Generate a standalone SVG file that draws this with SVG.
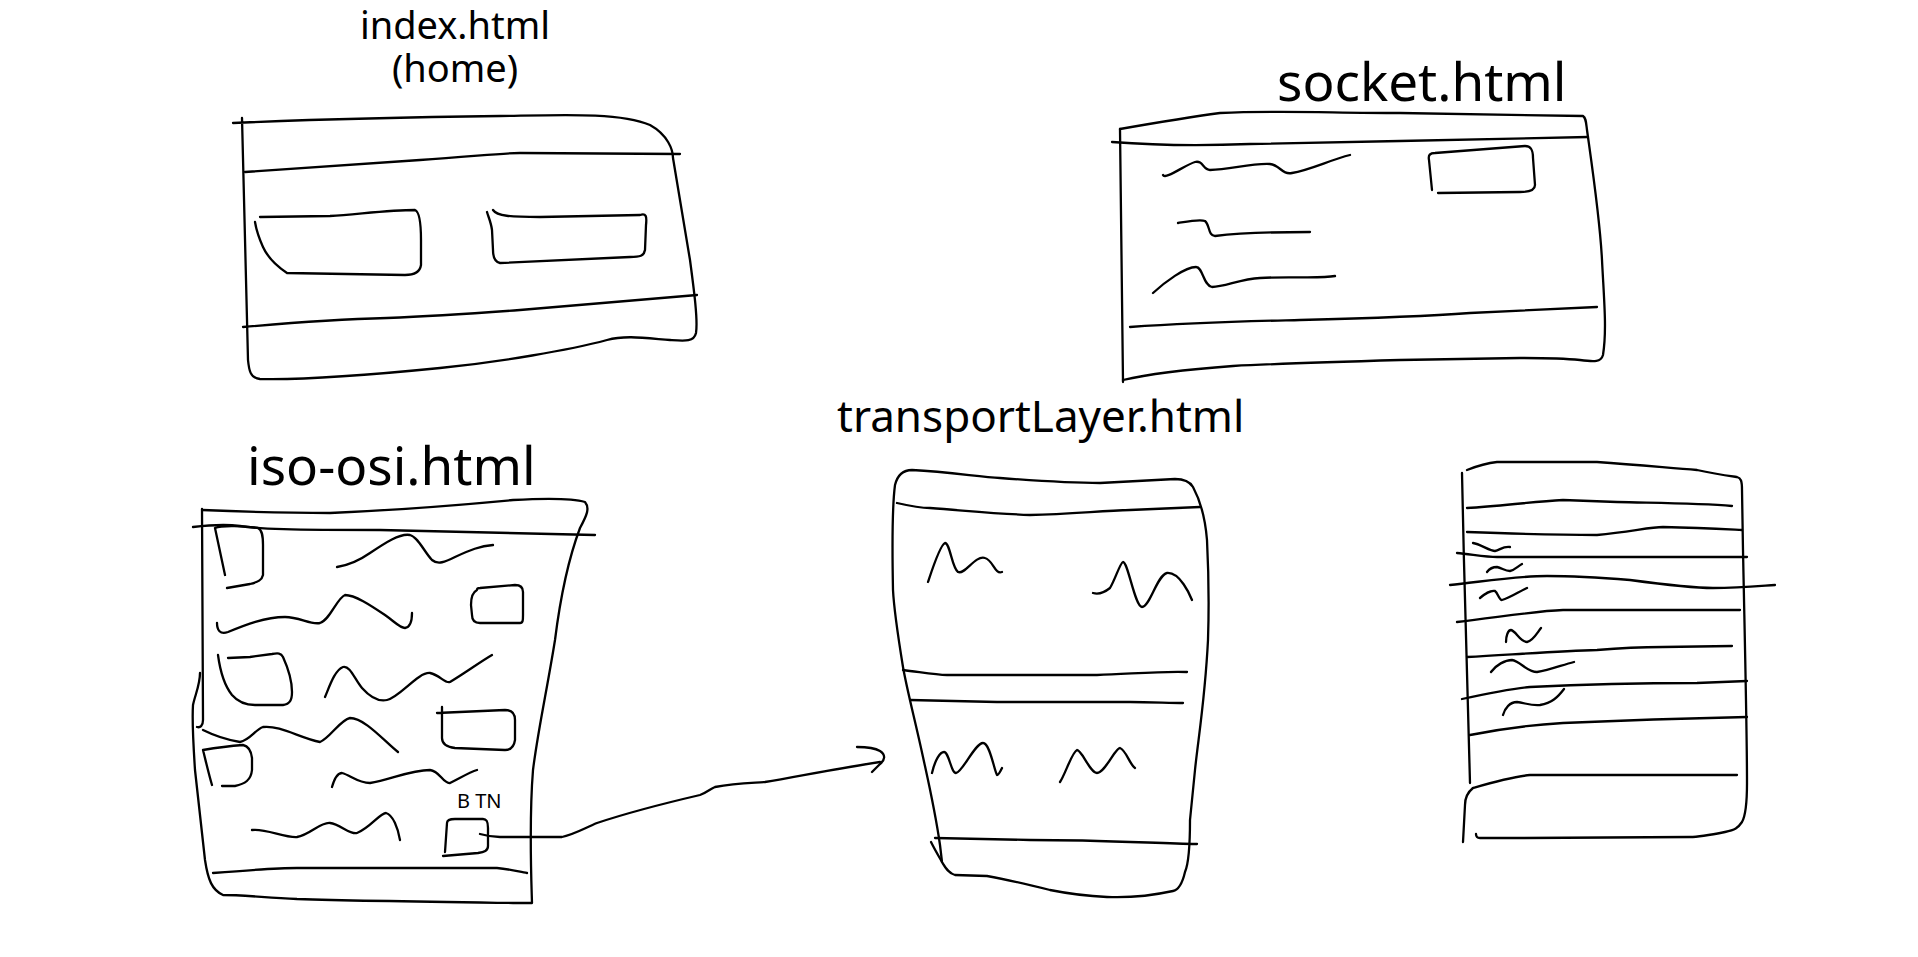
<svg xmlns="http://www.w3.org/2000/svg" width="1918" height="957" viewBox="0 0 1918 957">
<style>
path{fill:none;stroke:#000;stroke-width:2.3;stroke-linecap:round;stroke-linejoin:round}
text{font-family:"Noto Sans","Open Sans","DejaVu Sans",sans-serif;fill:#000}
.c{text-anchor:middle}
</style>
<rect width="1918" height="957" fill="#fff"/>
<g id="index">
<text class="c" x="455" y="39" font-size="38">index.html</text>
<text class="c" x="455" y="82" font-size="38">(home)</text>
<path d="M233,123 C300,120 420,117 500,116 C560,115 620,112 650,125 C668,135 673,150 673,158 L690,260 C694,290 698,320 696,333 C694,342 685,341 670,340 C645,338 625,335 607,340 C570,350 500,362 440,368 C360,376 300,380 260,379 C250,378 249,370 248,360 L242,118"/>
<path d="M245,172 C320,167 380,163 420,160 C470,157 500,153 520,153 L680,154"/>
<path d="M243,327 C300,322 350,319 387,318 C440,316 480,313 520,310 C600,303 650,299 697,295"/>
<path d="M260,217 L330,216 C360,214 390,210 415,210 C420,212 421,225 421,240 L421,265 C420,272 415,275 405,275 L287,273 C275,265 268,258 263,247 C258,236 256,228 255,222"/>
<path d="M493,210 C497,216 510,217 540,217 L640,215 C646,213 647,216 646,225 L645,250 C644,256 640,257 630,257 L500,263 C495,262 493,258 493,250 L492,230 C491,222 488,216 487,212"/>
</g>
<g id="socket">
<text x="1277" y="101" font-size="53">socket.html</text>
<path d="M1120,129 C1160,122 1190,117 1220,113 C1280,110 1330,113 1400,113 L1583,116 C1586,118 1586,122 1587,130 C1594,180 1600,220 1602,260 C1604,300 1607,330 1603,355 C1601,362 1595,362 1580,360 C1560,358 1540,358 1520,358 L1400,360 C1330,362 1270,364 1233,366 C1180,370 1140,376 1123,380"/>
<path d="M1120,129 L1123,382"/>
<path d="M1112,142 C1150,145 1200,146 1250,144 L1400,141 L1588,137"/>
<path d="M1130,327 C1200,322 1260,321 1300,320 C1380,318 1430,316 1470,313 L1597,307"/>
<path d="M1432,190 L1429,160 C1428,155 1430,153 1435,153 L1525,146 C1531,146 1533,150 1533,158 L1535,185 C1535,190 1530,192 1520,192 L1438,193"/>
<path d="M1163,175 C1165,180 1185,165 1195,162 C1203,160 1203,170 1210,170 C1230,170 1250,163 1270,164 C1280,165 1282,175 1292,173 C1310,170 1330,160 1350,155"/>
<path d="M1178,223 C1190,221 1200,219 1205,221 C1210,225 1208,236 1215,236 C1240,233 1270,232 1310,232"/>
<path d="M1153,293 C1165,282 1185,267 1196,267 C1203,267 1203,285 1212,287 C1225,287 1240,279 1260,278 C1290,276 1320,279 1335,276"/>
</g>
<g id="iso-osi">
<text x="247" y="485" font-size="53">iso-osi.html</text>
<path d="M202,510 C250,512 300,513 330,513 C400,510 460,505 513,500 C550,498 575,499 585,502 C590,508 587,515 580,528 C568,560 560,600 555,640 C547,690 538,730 533,770 C529,820 531,870 532,903 L513,903 C440,902 360,901 297,899 C260,897 240,895 223,895 C212,890 208,880 205,860 L195,770 C193,740 192,720 193,705 C195,695 200,685 200,673"/>
<path d="M202,509 L203,720 C203,726 200,728 197,727"/>
<path d="M193,527 C210,525 225,524 240,526 C260,529 290,530 380,530 L595,535"/>
<path d="M213,873 C250,870 280,868 297,868 L497,868 C510,869 520,872 527,873"/>
<path d="M215,528 C222,525 245,526 258,528 C262,530 263,535 263,545 L263,575 C262,580 258,582 250,584 L227,588 M215,528 L225,575"/>
<path d="M477,590 C473,592 471,598 471,605 L472,615 C472,621 475,623 480,623 L520,623 C523,623 523,620 523,615 L523,592 C523,587 520,585 515,585 L480,588 C477,588 477,589 477,590 Z"/>
<path d="M218,655 C220,670 224,685 232,695 C238,702 245,705 255,705 L283,705 C290,704 292,700 292,692 C292,680 288,668 283,657 C281,653 278,653 272,654 L250,657 L228,658"/>
<path d="M437,713 L505,710 C512,710 515,713 515,720 L515,740 C514,747 511,750 505,750 L455,748 C446,747 442,744 442,738 L442,707"/>
<path d="M203,750 C215,748 230,746 243,745 C248,746 251,750 252,758 L252,770 C251,780 245,784 235,786 L222,786 M203,750 C206,762 209,775 212,785"/>
<path d="M447,823 C447,820 450,819 455,819 L483,819 C487,819 488,822 488,828 L488,846 C488,851 484,852 478,853 L443,856 M447,823 L445,852"/>
<text x="457" y="808" font-size="20">B TN</text>
<path d="M337,567 C350,565 360,560 370,553 C385,543 400,533 410,535 C418,537 425,553 432,560 C438,565 445,562 455,557 C470,550 480,546 493,545"/>
<path d="M217,623 C217,630 220,635 228,632 C245,625 265,617 285,617 C300,617 310,625 320,623 C330,620 337,598 345,595 C355,595 370,605 385,615 C395,622 400,628 405,628 C411,627 412,620 412,613"/>
<path d="M325,697 C330,685 335,670 343,667 C350,665 355,680 362,688 C370,697 378,702 387,700 C400,697 418,672 430,673 C440,675 445,684 450,682 C465,673 480,662 492,655"/>
<path d="M203,730 C215,736 228,740 240,742 C250,740 255,730 263,727 C280,725 300,738 320,742 C330,738 340,720 350,718 C365,718 385,742 398,752"/>
<path d="M332,787 C334,780 337,773 342,773 C350,775 358,783 370,783 C390,780 410,770 430,770 C440,771 443,784 450,783 C460,778 470,772 477,770"/>
<path d="M252,830 C265,828 285,838 297,837 C310,835 320,822 330,823 C340,824 350,835 357,833 C370,828 380,813 386,813 C393,815 398,828 400,840"/>
</g>
<g id="transportLayer">
<text x="837" y="432" font-size="44">transportLayer.html</text>
<path d="M895,485 C898,473 905,470 912,470 C950,472 980,477 1000,478 C1040,481 1070,483 1100,483 L1175,479 C1185,479 1190,482 1193,487 C1200,500 1205,515 1207,540 C1209,580 1209,610 1208,640 C1205,700 1198,740 1195,770 L1190,820 C1190,850 1188,865 1185,872 C1182,885 1178,890 1173,891 C1150,896 1130,898 1107,897 C1085,896 1065,893 1050,890 C1030,885 1010,880 987,876 L955,875 C948,873 945,867 942,862 L940,845 C935,810 928,780 923,757 C915,720 907,690 903,667 C897,630 894,610 893,590 C892,540 893,500 895,485 Z"/>
<path d="M897,503 C910,506 920,508 930,508 C970,511 1000,514 1030,515 C1070,514 1100,511 1130,510 L1200,507"/>
<path d="M903,670 C920,672 935,675 947,675 L1097,675 C1130,674 1160,671 1187,672"/>
<path d="M910,700 L997,702 L1130,702 C1150,702 1170,703 1183,703"/>
<path d="M935,838 L1030,840 C1100,840 1150,843 1197,844"/>
<path d="M931,842 C935,850 938,855 942,862"/>
<path d="M928,582 C932,570 940,545 945,543 C950,543 952,568 958,572 C965,575 975,555 985,558 C993,560 995,575 1002,572"/>
<path d="M1093,593 C1100,595 1105,592 1110,588 C1115,580 1120,563 1123,562 C1128,562 1135,607 1142,607 C1150,607 1157,575 1167,573 C1180,572 1190,595 1192,600"/>
<path d="M932,773 C935,760 940,752 944,752 C949,752 951,773 956,773 C962,773 975,743 983,743 C990,743 994,770 997,775 C999,775 1001,770 1002,768"/>
<path d="M1060,782 C1065,775 1072,752 1077,750 C1082,750 1090,773 1097,773 C1105,773 1115,748 1120,748 C1126,750 1130,765 1135,768"/>
</g>
<g id="page5">
<path d="M1467,470 C1477,466 1487,463 1497,462 L1597,462 C1640,465 1670,468 1697,470 C1715,474 1730,476 1737,477 C1741,478 1742,481 1742,490 L1743,550 C1745,650 1747,730 1747,783 C1747,800 1746,815 1742,822 C1738,828 1735,830 1725,832 C1710,835 1700,837 1690,837 L1523,838 L1480,838 C1477,838 1476,836 1476,834"/>
<path d="M1462,473 C1464,580 1468,700 1470,783"/>
<path d="M1473,788 C1468,792 1465,797 1465,805 L1463,842"/>
<path d="M1467,508 C1500,506 1530,502 1563,500 L1617,502 C1660,503 1700,503 1732,506"/>
<path d="M1467,532 C1520,534 1570,535 1597,535 C1630,532 1650,527 1663,527 C1700,528 1720,529 1742,530"/>
<path d="M1457,553 C1470,554 1485,557 1497,557 L1747,557"/>
<path d="M1450,585 C1480,582 1515,576 1547,576 C1580,576 1605,578 1630,580 C1660,584 1690,588 1713,588 C1740,588 1760,586 1775,585"/>
<path d="M1457,622 C1500,617 1535,611 1563,610 L1740,610"/>
<path d="M1467,657 C1520,654 1560,651 1597,650 C1620,648 1640,647 1663,647 L1732,646"/>
<path d="M1462,699 C1490,693 1510,689 1530,687 C1590,684 1650,683 1697,683 L1747,681"/>
<path d="M1470,735 C1500,729 1530,725 1563,723 C1630,720 1700,718 1747,717"/>
<path d="M1473,788 C1490,783 1510,777 1530,775 L1737,775"/>
<path d="M1473,543 C1480,544 1490,551 1495,551 C1500,550 1503,546 1510,547"/>
<path d="M1487,572 C1490,568 1493,567 1497,567 C1502,568 1505,571 1510,571 C1515,570 1518,566 1522,564"/>
<path d="M1480,598 C1485,594 1490,590 1495,591 C1498,593 1499,600 1502,600 C1510,598 1520,591 1527,588"/>
<path d="M1506,642 C1506,636 1508,630 1511,630 C1516,631 1520,642 1527,642 C1533,641 1537,633 1541,628"/>
<path d="M1491,672 C1496,665 1505,660 1512,660 C1520,661 1527,672 1537,672 C1550,670 1562,665 1574,662"/>
<path d="M1503,715 C1505,708 1510,702 1517,702 C1525,703 1532,706 1540,705 C1552,703 1558,697 1564,689"/>
</g>
<g id="connectors">
<path d="M480,834 C487,836 492,837 500,837 L562,837 C575,834 585,828 597,823 C630,812 670,802 700,795 C708,792 710,789 715,787 C735,783 750,783 765,782 C800,776 840,768 880,762"/>
<path d="M857,747 C865,747 875,748 880,751 C886,755 885,760 880,764 C877,767 874,770 872,772"/>
</g>
</svg>
